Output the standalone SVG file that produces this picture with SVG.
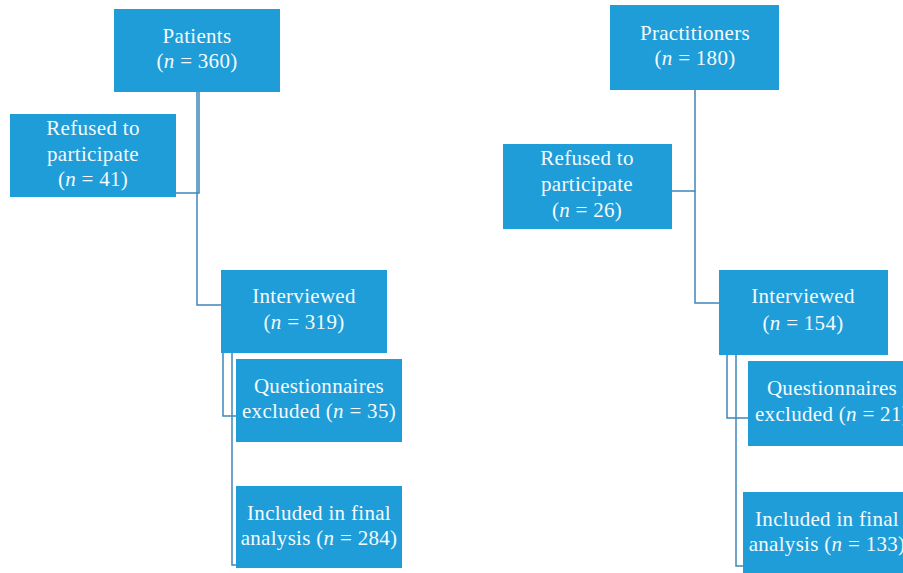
<svg xmlns="http://www.w3.org/2000/svg" width="903" height="573" viewBox="0 0 903 573">
<style>
.box{fill:#1f9dd8}
.t{font-family:"Liberation Serif","Times New Roman",serif;font-size:21px;letter-spacing:0.3px;fill:#f4fafd;text-anchor:middle}
.i{font-style:italic}
.c{fill:none;stroke:#3f86b8;stroke-width:1.5}
</style>
<rect width="903" height="573" fill="#ffffff"/>
<g id="connectors">
<path class="c" d="M199,92 V193 H176"/>
<path class="c" d="M197,92 V305 H221"/>
<path class="c" d="M223,353 V416 H236"/>
<path class="c" d="M232,353 V565 H236"/>
<path class="c" d="M695,90 V191 H672"/>
<path class="c" d="M695,191 V303 H719"/>
<path class="c" d="M727,355 V418 H748"/>
<path class="c" d="M736,355 V566 H743"/>
</g>
<g id="patients">
<rect class="box" x="114" y="9" width="166" height="83"/>
<text class="t" x="197" y="43">Patients</text>
<text class="t" x="197" y="68">(<tspan class="i">n</tspan> = 360)</text>
</g>
<g id="refused-patients">
<rect class="box" x="10" y="114" width="166" height="83"/>
<text class="t" x="93" y="135">Refused to</text>
<text class="t" x="93" y="161">participate</text>
<text class="t" x="93" y="186">(<tspan class="i">n</tspan> = 41)</text>
</g>
<g id="interviewed-patients">
<rect class="box" x="221" y="270" width="166" height="83"/>
<text class="t" x="304" y="303">Interviewed</text>
<text class="t" x="304" y="329">(<tspan class="i">n</tspan> = 319)</text>
</g>
<g id="excluded-patients">
<rect class="box" x="236" y="359" width="166" height="83"/>
<text class="t" x="319" y="393">Questionnaires</text>
<text class="t" x="319" y="418">excluded (<tspan class="i">n</tspan> = 35)</text>
</g>
<g id="included-patients">
<rect class="box" x="236" y="486" width="166" height="82"/>
<text class="t" x="319" y="520">Included in final</text>
<text class="t" x="319" y="545">analysis (<tspan class="i">n</tspan> = 284)</text>
</g>
<g id="practitioners">
<rect class="box" x="610" y="5" width="169" height="85"/>
<text class="t" x="695" y="40">Practitioners</text>
<text class="t" x="695" y="65">(<tspan class="i">n</tspan> = 180)</text>
</g>
<g id="refused-practitioners">
<rect class="box" x="503" y="144" width="169" height="85"/>
<text class="t" x="587" y="165">Refused to</text>
<text class="t" x="587" y="191">participate</text>
<text class="t" x="587" y="217">(<tspan class="i">n</tspan> = 26)</text>
</g>
<g id="interviewed-practitioners">
<rect class="box" x="719" y="270" width="169" height="85"/>
<text class="t" x="803" y="303">Interviewed</text>
<text class="t" x="803" y="330">(<tspan class="i">n</tspan> = 154)</text>
</g>
<g id="excluded-practitioners">
<rect class="box" x="748" y="361" width="169" height="85"/>
<text class="t" x="832" y="395">Questionnaires</text>
<text class="t" x="832" y="421">excluded (<tspan class="i">n</tspan> = 21)</text>
</g>
<g id="included-practitioners">
<rect class="box" x="743" y="492" width="169" height="82"/>
<text class="t" x="827" y="526">Included in final</text>
<text class="t" x="827" y="551">analysis (<tspan class="i">n</tspan> = 133)</text>
</g>
</svg>
